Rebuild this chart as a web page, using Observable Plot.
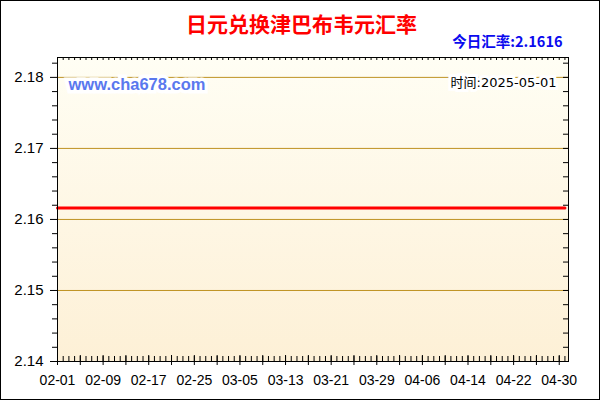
<!DOCTYPE html>
<html>
<head>
<meta charset="utf-8">
<script src="https://cdn.jsdelivr.net/npm/d3@7"></script>
<script src="https://cdn.jsdelivr.net/npm/@observablehq/plot@0.6"></script>
<style>
  html, body { margin: 0; padding: 0; background: #fff; }
  #wrap { position: relative; width: 600px; height: 400px; overflow: hidden; }
  #border { position: absolute; left: 0; top: 0; width: 600px; height: 400px; box-sizing: border-box; border: 1px solid #000; pointer-events: none; }
</style>
</head>
<body>
<div id="wrap"><div id="border"></div></div>
<script>
// ---- data ----
const dates = ["2025-02-01","2025-02-09","2025-02-17","2025-02-25","2025-03-05","2025-03-13","2025-03-21","2025-03-29","2025-04-06","2025-04-14","2025-04-22","2025-04-30","2025-05-01"];
const rates = [2.1616,2.1616,2.1616,2.1616,2.1616,2.1616,2.1616,2.1616,2.1616,2.1616,2.1616,2.1616,2.1616];
const xLabelDates = ["2025-02-01","2025-02-09","2025-02-17","2025-02-25","2025-03-05","2025-03-13","2025-03-21","2025-03-29","2025-04-06","2025-04-14","2025-04-22","2025-04-30"];
const yTicks = [2.14, 2.15, 2.16, 2.17, 2.18];
const yGrid = [2.15, 2.16, 2.17, 2.18];
const yMinorTicks = [2.142, 2.144, 2.146, 2.148, 2.152, 2.154, 2.156, 2.158, 2.162, 2.164, 2.166, 2.168, 2.172, 2.174, 2.176, 2.178, 2.182];
const titleText = "日元兑换津巴布韦元汇率";
const todayText = "今日汇率:2.1616";
const siteText = "www.cha678.com";
const timeText = "时间:2025-05-01";

const parse = d3.utcParse("%Y-%m-%d");
const table = dates.map((d, i) => ({date: parse(d), rate: rates[i]}));
const xLabels = xLabelDates.map(parse);
const dayTicks = d3.utcDay.range(parse("2025-02-01"), parse("2025-05-02"));
const majorDayTicks = dayTicks.filter((d, i) => i % 4 === 0);

const W = 600, H = 400, mL = 57, mR = 32, mT = 57, mB = 39;
const fw = W - mL - mR, fh = H - mT - mB;
const latin = "'Liberation Sans', Arial, sans-serif";
const cjk = "'Noto Sans CJK SC', 'Liberation Sans', sans-serif";

const chart = Plot.plot({
  width: W, height: H,
  marginLeft: mL, marginRight: mR, marginTop: mT, marginBottom: mB,
  style: {background: "transparent", fontFamily: latin, overflow: "visible"},
  x: {type: "utc", domain: [parse("2025-02-01"), new Date(Date.UTC(2025, 4, 1, 15))], label: null},
  y: {domain: [2.14, 2.1828], label: null},
  marks: [
    Plot.frame({fill: "url(#bgGrad)", stroke: null}),
    Plot.ruleY(yGrid, {stroke: "#bf9222", strokeWidth: 1}),
    Plot.line(table, {x: "date", y: "rate", stroke: "#ff0000", strokeWidth: 3}),
    // left ticks
    Plot.axisY(yTicks, {tickSize: 7, tickPadding: 7, fontSize: 15, fill: "#000", tickFormat: d => d.toFixed(2), stroke: "#000"}),
    Plot.tickY(yMinorTicks, {y: d => d, insetLeft: -5, insetRight: fw, stroke: "#000"}),
    // right ticks (inward)
    Plot.tickY(yTicks.concat(yMinorTicks), {y: d => d, insetLeft: fw - 5, stroke: "#000"}),
    // bottom ticks
    Plot.tickX(dayTicks, {x: d => d, insetTop: fh - 5, stroke: "#000"}),
    Plot.tickX(majorDayTicks, {x: d => d, insetTop: fh - 6, insetBottom: -4, stroke: "#000"}),
    // top ticks
    Plot.tickX(dayTicks, {x: d => d, insetBottom: fh - 3, stroke: "#000"}),
    Plot.axisX(xLabels, {tickSize: 0, tickPadding: 14, fontSize: 14, fill: "#000", tickFormat: d3.utcFormat("%m-%d")}),
    Plot.frame({stroke: "#000"}),
    // texts
    Plot.text([siteText], {text: d => d, frameAnchor: "top-left", dx: 11, dy: 27, lineAnchor: "middle", textAnchor: "start",
      fill: "#5a78ee", fontSize: 16.5, fontWeight: "bold", fontFamily: latin, stroke: "#fff", strokeWidth: 7, strokeLinejoin: "miter"}),
    Plot.text([timeText], {text: d => d, frameAnchor: "top-right", dx: -12, dy: 25, lineAnchor: "middle", textAnchor: "end",
      fill: "#000", fontSize: 13, fontFamily: "'DejaVu Sans', " + cjk, stroke: "#fff", strokeWidth: 6, strokeLinejoin: "miter"}),
    Plot.text([titleText], {text: d => d, frameAnchor: "top", dx: -11.5, dy: -32, lineAnchor: "middle",
      fill: "#ff0000", fontSize: 21, fontWeight: "bold", fontFamily: cjk}),
    Plot.text([todayText], {text: d => d, frameAnchor: "top-right", dx: -6, dy: -15, lineAnchor: "middle", textAnchor: "end",
      fill: "#0a0aee", fontSize: 14.5, fontWeight: "bold", fontFamily: cjk})
  ]
});

// gradient for plot background
const ns = "http://www.w3.org/2000/svg";
const defs = document.createElementNS(ns, "defs");
defs.innerHTML = '<linearGradient id="bgGrad" x1="0" y1="0" x2="0" y2="1">' +
  '<stop offset="0" stop-color="#fffef4"/><stop offset="1" stop-color="#fdf0d6"/></linearGradient>';
chart.insertBefore(defs, chart.firstChild);

document.getElementById("wrap").insertBefore(chart, document.getElementById("border"));
</script>
</body>
</html>
